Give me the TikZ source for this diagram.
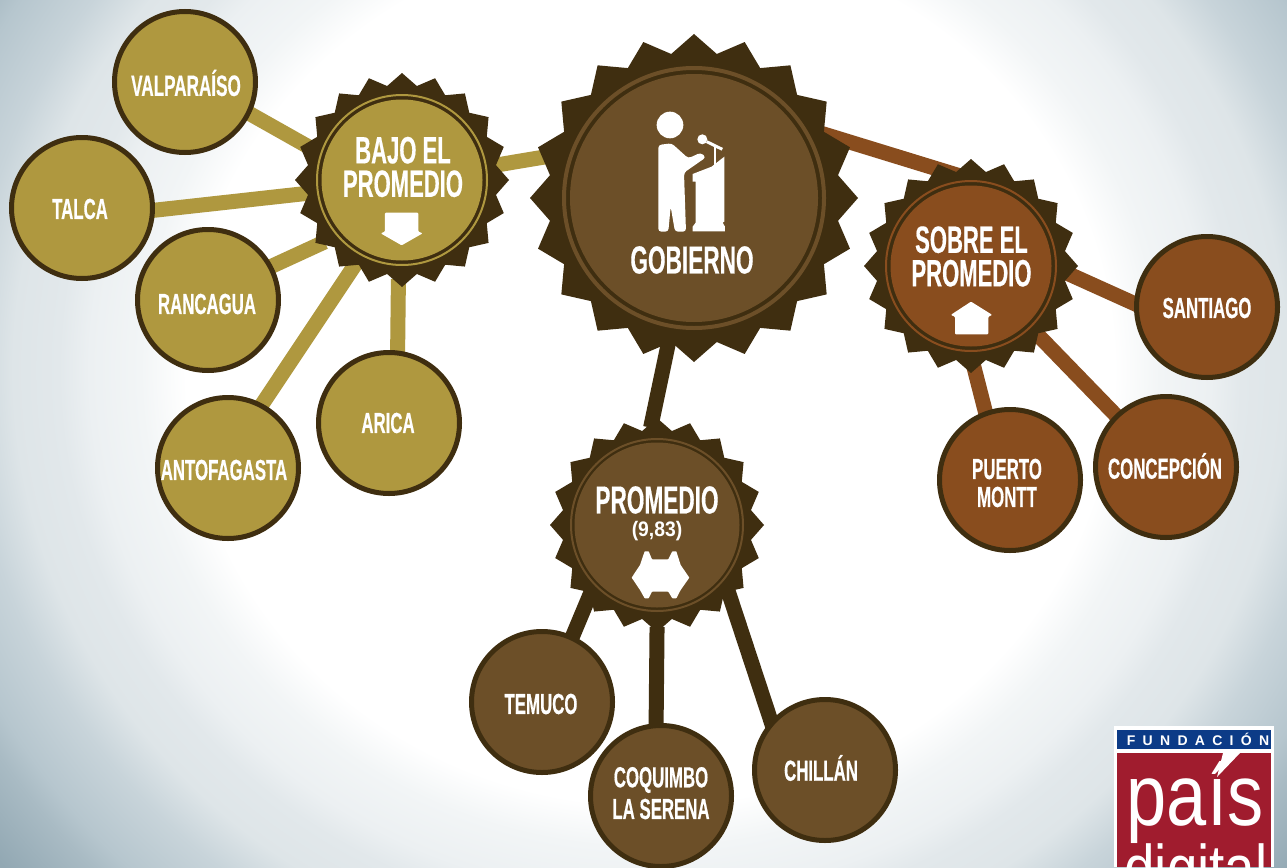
\documentclass[tikz,border=0pt]{standalone}
\usepackage{fontspec}
\usetikzlibrary{shapes.geometric}
\setmainfont{Liberation Sans}[FakeStretch=0.58,BoldFeatures={FakeBold=0.4}]
\newfontfamily\labwide{Liberation Sans Bold}[FakeStretch=0.92]
\newfontfamily\logospaced{Liberation Sans}[LetterSpace=52]
\newfontfamily\logolarge{Liberation Sans}[FakeStretch=0.83]
\definecolor{darkc}{HTML}{3F2E10}
\definecolor{brownc}{HTML}{6C4F28}
\definecolor{goldc}{HTML}{AF983F}
\definecolor{orangec}{HTML}{894D1E}
\definecolor{redc}{HTML}{A01C2E}
\definecolor{bluec}{HTML}{0C3B87}
\definecolor{bgA}{HTML}{F2F5F6}
\definecolor{bgB}{HTML}{ECF0F2}
\definecolor{bgC}{HTML}{E2E8EB}
\definecolor{bgD}{HTML}{DEE5E8}
\definecolor{bgE}{HTML}{C8D4DA}
\definecolor{bgF}{HTML}{B6C6CE}
\definecolor{bgG}{HTML}{A9BBC4}
\definecolor{bgH}{HTML}{92A8B3}
\pgfdeclareradialshading{bgshade}{\pgfpoint{0bp}{0bp}}{color(0bp)=(white); color(9.1bp)=(white); color(10bp)=(bgA); color(11bp)=(bgB); color(11.6bp)=(bgC); color(12.5bp)=(bgD); color(13.4bp)=(bgE); color(14.6bp)=(bgF); color(15.1bp)=(bgG); color(16.4bp)=(bgH); color(50bp)=(bgH)}
\pgfdeclarelayer{bg}
\pgfdeclarelayer{conn}
\pgfsetlayers{bg,conn,main}
\tikzset{
  city/.style={circle,draw=darkc,line width=5pt,fill=#1,minimum size=141pt,inner sep=0pt,outer sep=0pt},
  badge/.style={star,star points=20,star point ratio=1.125,fill=darkc,minimum size=#1,inner sep=0pt,outer sep=0pt},
  disc/.style={circle,fill=#1,inner sep=0pt,outer sep=0pt},
  ring/.style={circle,draw=#1,inner sep=0pt,outer sep=0pt},
  lab/.style={text=white,inner sep=0pt,align=center,font=\bfseries\fontsize{#1}{#1}\selectfont},
  lablines/.style={text=white,inner sep=0pt,align=center,font=\bfseries\fontsize{38}{33.5}\selectfont},
  link/.style={line width=15pt,draw=#1,shorten <=-5pt,shorten >=-5pt}
}
\begin{document}
\begin{tikzpicture}[x=1pt,y=-1pt]
\useasboundingbox (0,0) rectangle (1287,867);
\begin{pgfonlayer}{bg}
\begin{scope}
\clip (0,0) rectangle (1287,867);
\shade[shading=bgshade] (-624,-824) rectangle (1924,1564);
\end{scope}
\end{pgfonlayer}

% badges
\node[badge=328pt] (gob) at (694,198) {};
\node[ring=brownc,line width=4pt,minimum size=260pt] (gobr) at (694,198) {};
\node[disc=brownc,minimum size=248pt] (gobf) at (694,198) {};
\node[badge=214pt] (bajo) at (402,180) {};
\node[ring=goldc,line width=2pt,minimum size=170pt] (bajor) at (402,180) {};
\node[disc=goldc,minimum size=161pt] (bajof) at (402,180) {};
\node[badge=214pt] (sobre) at (971,266) {};
\node[ring=orangec,line width=2pt,minimum size=170pt] (sobrer) at (971,266) {};
\node[disc=orangec,minimum size=161pt] (sobref) at (971,266) {};
\node[badge=214pt] (prom) at (657,525) {};
\node[ring=brownc,line width=2pt,minimum size=172pt] (promr) at (657,525) {};
\node[disc=brownc,minimum size=165pt] (promf) at (657,525) {};

% city circles
\node[city=goldc] (val) at (185,82) {};
\node[city=goldc] (talca) at (82,208) {};
\node[city=goldc] (ran) at (208,300) {};
\node[city=goldc] (anto) at (228,468) {};
\node[city=goldc] (arica) at (389,423) {};
\node[city=brownc] (tem) at (542,702) {};
\node[city=brownc] (coq) at (661,796) {};
\node[city=brownc] (chi) at (825,770) {};
\node[city=orangec] (pue) at (1010,480) {};
\node[city=orangec] (con) at (1166,467) {};
\node[city=orangec] (san) at (1207,307) {};

% connectors
\begin{pgfonlayer}{conn}
\draw[link=goldc] (bajo.9) -- (gob.165);
\draw[link=goldc] (val.-26.5) -- (bajo.160);
\draw[link=goldc] (talca.-2) -- (bajo.188);
\draw[link=goldc] (ran.28) -- (bajo.218.6);
\draw[link=goldc] (anto.62) -- (bajo.241);
\draw[link=goldc] (arica.83) -- (bajo.268);
\draw[link=orangec,shorten <=-15pt,shorten >=-25pt] (gob.24) -- (sobre.110);
\draw[link=orangec] (san.178) -- (sobre.-5);
\draw[link=orangec] (con) -- (sobre);
\draw[link=orangec] (pue.110) -- (sobre.-88);
\draw[link=darkc] (gob.260) -- (prom.93);
\draw[link=darkc] (tem.65) -- (prom.226);
\draw[link=darkc] (coq.94) -- (prom.270);
\draw[link=darkc] (chi.139) -- (prom.-43.5);
\end{pgfonlayer}

% labels
\node[lab=39] (tgob) at (692,260) {GOBIERNO};
\node[lablines] (tbajo) at (403,167) {BAJO EL\\PROMEDIO};
\node[lablines] (tsobre) at (971.5,256.5) {SOBRE EL\\PROMEDIO};
\node[lab=39] (tp1) at (657,500) {PROMEDIO};
\node[text=white,inner sep=0pt,font=\labwide\fontsize{21}{21}\selectfont] (tp2) at (657,531) {(9,83)};
\node[lab=29.5] (tval) at (186,83) {VALPARAÍSO};
\node[lab=29] (ttal) at (80,209) {TALCA};
\node[lab=29] (tran) at (207,304) {RANCAGUA};
\node[lab=29] (tant) at (224,470) {ANTOFAGASTA};
\node[lab=29] (tari) at (388,423) {ARICA};
\node[lab=29] (ttem) at (541,704) {TEMUCO};
\node[lab=29] (tco1) at (661,780) {COQUIMBO};
\node[lab=29] (tco2) at (661,809) {LA SERENA};
\node[lab=29] (tchi) at (821,768) {CHILLÁN};
\node[lab=29] (tpu1) at (1007,469) {PUERTO};
\node[lab=29] (tpu2) at (1007,497) {MONTT};
\node[lab=29] (tcon) at (1165,466) {CONCEPCIÓN};
\node[lab=29] (tsan) at (1207,308) {SANTIAGO};

% speaker icon
\begin{scope}[shift={(530,30)},x=.3333pt,y=-.3333pt]
\fill[white] (420,285) circle[radius=40];
\fill[white,rounded corners=3pt] (385,605) -- (385,345) -- (425,340) -- (475,385) -- (512,368) -- (528,382) -- (462,428) -- (468,605) -- (435,605) -- (422,530) -- (415,605) -- cycle;
\fill[white] (488,432) -- (545,410) -- (583,380) -- (583,575) -- (578,578) -- (585,590) -- (585,604) -- (488,604) -- (488,590) -- (497,578) -- (497,455) -- (488,455) -- cycle;
\fill[white] (517,328) circle[radius=15];
\draw[white,line width=3pt] (530,335) -- (577,358);
\draw[white,line width=1.5pt] (555,348) -- (555,405);
\end{scope}

% down arrow
\begin{scope}[shift={(290,60)},x=.3333pt,y=-.3333pt]
\fill[white,rounded corners=1pt] (285,458) -- (385,458) -- (385,515) -- (398,520) -- (335,556) -- (272,520) -- (285,515) -- cycle;
\end{scope}
% up house
\begin{scope}[shift={(860,150)},x=.3333pt,y=-.3333pt]
\fill[white,rounded corners=1pt] (333,455) -- (397,495) -- (385,500) -- (385,553) -- (285,553) -- (285,500) -- (272,495) -- cycle;
\end{scope}
% double arrow
\begin{scope}[shift={(550,420)},x=.3333pt,y=-.3333pt]
\fill[white,rounded corners=.5pt] (245,473) -- (270,435) -- (284,394) -- (296,394) -- (306,418) -- (355,418) -- (367,394) -- (379,394) -- (392,435) -- (418,473) -- (392,510) -- (379,535) -- (367,535) -- (355,515) -- (306,515) -- (296,535) -- (284,535) -- (270,510) -- cycle;
\end{scope}

% logo
\fill[white] (1114,726) rectangle (1274,867);
\fill[bluec] (1117,730) rectangle (1271,749);
\fill[redc] (1117,753) rectangle (1271,867);
\node[text=white,inner sep=0pt,font=\logospaced\bfseries\fontsize{14}{14}\selectfont] (tfun) at (1198,739.5) {FUNDACIÓN};
\begin{scope}
\clip (1117,753) rectangle (1271,867);
\node[text=white,inner sep=0pt,anchor=base,font=\logolarge\fontsize{87}{87}\selectfont] (tpais) at (1195,825) {país};
\node[text=white,inner sep=0pt,anchor=base,font=\logolarge\fontsize{66}{66}\selectfont] (tdig) at (1196,891) {digital};
\fill[white] (1223,753) -- (1240,753) -- (1217,777) -- cycle;
\end{scope}
\end{tikzpicture}
\end{document}
